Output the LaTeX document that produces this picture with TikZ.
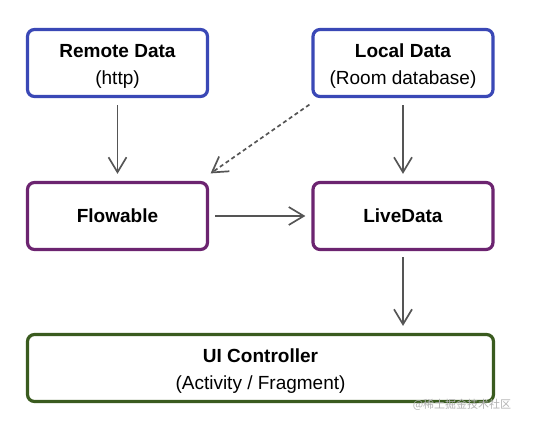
\documentclass[tikz,border=0pt]{standalone}
\usepackage{fontspec}
\setmainfont{Liberation Sans}
\newfontfamily\cjkfont{Noto Sans CJK SC}
\usetikzlibrary{arrows.meta}
\definecolor{bluebd}{HTML}{3A48B6}
\definecolor{purplebd}{HTML}{6C2470}
\definecolor{greenbd}{HTML}{3A5B1F}
\definecolor{arrowgray}{HTML}{555555}
\newcommand{\toplift}{\rule{0pt}{19.5pt}}
\tikzset{
  box/.style={draw, rounded corners=7pt, line width=3.2pt, fill=white,
    minimum width=180pt, minimum height=67pt, align=center, inner sep=0pt,
    font=\fontsize{19}{27}\selectfont},
  srcbox/.style={box, draw=bluebd},
  midbox/.style={box, draw=purplebd},
  uibox/.style={box, draw=greenbd, minimum width=466pt},
  conn/.style={draw=arrowgray, line width=1.7pt,
    -{Straight Barb[length=15pt, width=18pt, line width=1.7pt]}},
  dashconn/.style={conn, dash pattern=on 4pt off 3pt}
}
\begin{document}
\begin{tikzpicture}[x=1pt,y=-1pt]
\useasboundingbox (0,0) rectangle (556,428);
\node[srcbox] (remote) at (117.5,63) {\toplift\textbf{Remote Data}\\(http)};
\node[srcbox] (local) at (403,63) {\toplift\textbf{Local Data}\\(Room database)};
\node[midbox] (flow) at (117.5,216) {\textbf{Flowable}};
\node[midbox] (live) at (403,216) {\textbf{LiveData}};
\node[uibox] (ui) at (260.5,368) {\toplift\textbf{UI Controller}\\(Activity / Fragment)};
\node[text=black!30, font=\cjkfont\fontsize{11}{13}\selectfont] (wm) at (462,405) {@稀土掘金技术社区};
\draw[conn, shorten <=7pt, shorten >=7pt] (remote) -- (flow);
\draw[conn, shorten <=7pt, shorten >=7pt] (local) -- (live);
\draw[conn, shorten <=6pt, shorten >=6pt] (flow) -- (live);
\draw[conn, shorten <=6pt, shorten >=7pt] (live) -- (ui.north -| live);
\draw[dashconn] ([shift={(-2,6.5)}]local.south west) -- ([shift={(1.5,-7.5)}]flow.north east);
\end{tikzpicture}
\end{document}
